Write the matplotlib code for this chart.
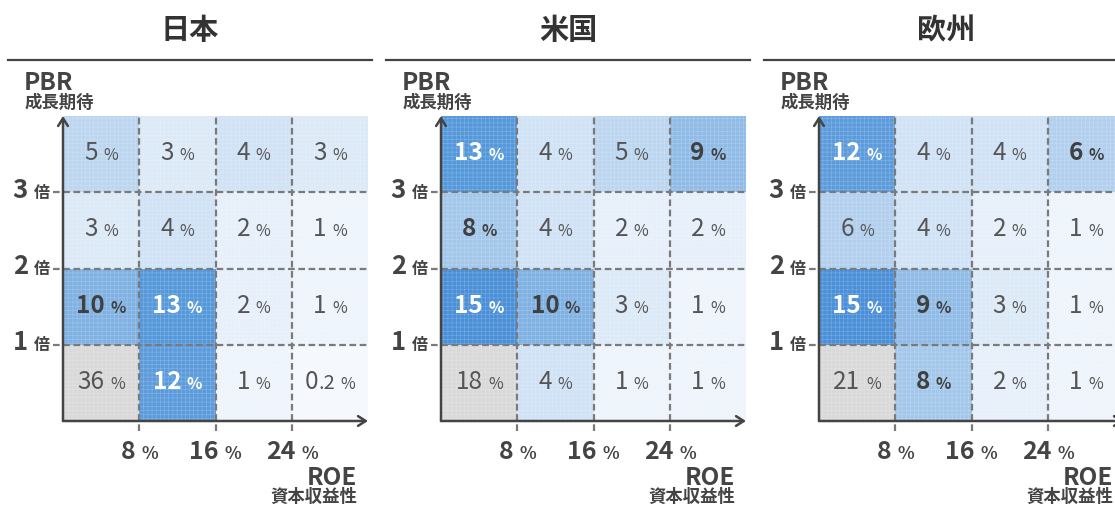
import numpy as np
import matplotlib
matplotlib.use('Agg')
import matplotlib.pyplot as plt
from matplotlib.colors import LinearSegmentedColormap
from matplotlib.offsetbox import TextArea, HPacker, AnnotationBbox
from matplotlib.lines import Line2D
from matplotlib.patches import Rectangle

plt.rcParams['font.family'] = ['Noto Sans CJK JP', 'DejaVu Sans']
plt.rcParams['hatch.linewidth'] = 0.4

# ---------------- data ----------------
regions = ['日本', '米国', '欧州']
roe_ticks = ['8', '16', '24']
pbr_ticks = ['3', '2', '1']
# rows: PBR >3倍, 2-3倍, 1-2倍, <1倍 (top->bottom); cols: ROE <8, 8-16, 16-24, >24 %
japan = [[5, 3, 4, 3],
         [3, 4, 2, 1],
         [10, 13, 2, 1],
         [36, 12, 1, 0.2]]
usa = [[13, 4, 5, 9],
       [8, 4, 2, 2],
       [15, 10, 3, 1],
       [18, 4, 1, 1]]
europe = [[12, 4, 4, 6],
          [6, 4, 2, 1],
          [15, 9, 3, 1],
          [21, 8, 2, 1]]
japan_bold = [[0, 0, 0, 0], [0, 0, 0, 0], [1, 1, 0, 0], [0, 1, 0, 0]]
usa_bold = [[1, 0, 0, 1], [1, 0, 0, 0], [1, 1, 0, 0], [0, 0, 0, 0]]
europe_bold = [[1, 0, 0, 1], [0, 0, 0, 0], [1, 1, 0, 0], [0, 1, 0, 0]]
gray_cell = (3, 0)

panels = [(regions[0], japan, japan_bold),
          (regions[1], usa, usa_bold),
          (regions[2], europe, europe_bold)]

# ---------------- style ----------------
W, H, DPI = 1115, 506, 100
PT = 72 / DPI  # px -> pt
cmap = LinearSegmentedColormap.from_list('blues', [
    (0.0, '#f6f9fd'), (1 / 15, '#eef4fb'), (2 / 15, '#e6effa'), (3 / 15, '#dce9f7'),
    (4 / 15, '#d0e2f5'), (5 / 15, '#bcd6f0'), (6 / 15, '#b2cfee'), (8 / 15, '#a3c7ea'),
    (9 / 15, '#90bbe6'), (10 / 15, '#80b1e3'), (12 / 15, '#5c9bdb'), (13 / 15, '#5598da'),
    (1.0, '#4a8fd7')])
cmap.set_bad('#d9d9d9')
cmap.set_over('#4a8fd7')
AXC = '#444444'
DASHC = '#7a7a7a'

fig = plt.figure(figsize=(W / DPI, H / DPI), dpi=DPI)
fig.patch.set_facecolor('white')


def fx(x):
    return x / W


def fy(y):
    return 1 - y / H


def composite(ax, xy, parts, align, offset_px, xycoords='data', sep=5.5):
    """parts: list of groups; each group list of (text, props) without gaps."""
    groups = []
    for g in parts:
        areas = [TextArea(s, textprops=p) for s, p in g]
        groups.append(HPacker(children=areas, align='baseline', pad=0, sep=0))
    pack = HPacker(children=groups, align='baseline', pad=0, sep=sep * PT)
    ab = AnnotationBbox(pack, xy, xybox=(offset_px[0] * PT, offset_px[1] * PT),
                        xycoords=xycoords, boxcoords='offset points',
                        box_alignment=align, frameon=False, pad=0,
                        annotation_clip=False, zorder=6)
    ax.add_artist(ab)


GL, GT, GS = 63, 117, 305  # grid left, top, size (px)
for i, (name, vals, bold) in enumerate(panels):
    dx = 378 * i
    v = np.array(vals, dtype=float)
    m = np.zeros_like(v, dtype=bool)
    m[gray_cell] = True
    data = np.ma.masked_array(v, mask=m)

    ax = fig.add_axes([fx(GL + dx), fy(GT + GS), GS / W, GS / H])
    ax.pcolormesh(np.arange(5), np.arange(5), data[::-1], cmap=cmap, vmin=0, vmax=15,
                  shading='flat', zorder=1)
    # fine paper-like texture over the cells
    ax.add_patch(Rectangle((0, 0), 1, 1, transform=ax.transAxes, facecolor='none',
                           edgecolor=(1, 1, 1, 0.25), hatch='++++', lw=0, zorder=2))
    ax.set_xlim(0, 4)
    ax.set_ylim(0, 4)
    ax.set_xticks([])
    ax.set_yticks([])
    for s in ax.spines.values():
        s.set_visible(False)

    # dashed grid
    ext = 10 / GS
    for k in (1, 2, 3):
        ax.axvline(k, ymin=-ext, ymax=1, color=DASHC, lw=1.6, ls=(0, (3, 1.6)),
                   clip_on=False, zorder=3)
        ax.axhline(k, xmin=-ext, xmax=1, color=DASHC, lw=1.6, ls=(0, (3, 1.6)),
                   clip_on=False, zorder=3)

    # axis arrows
    arrow = dict(arrowstyle='->,head_length=0.55,head_width=0.35', lw=1.8, color=AXC,
                 shrinkA=0, shrinkB=0, mutation_scale=10)
    ax.annotate('', xy=(0, 1.0), xytext=(0, 0), xycoords='axes fraction',
                arrowprops=arrow, zorder=5, annotation_clip=False)
    ax.annotate('', xy=(1.0, 0), xytext=(0, 0), xycoords='axes fraction',
                arrowprops=arrow, zorder=5, annotation_clip=False)

    # cell labels
    for r in range(4):
        for c in range(4):
            val = vals[r][c]
            if val >= 12 and (r, c) != gray_cell:
                col, wt = 'white', 'bold'
            elif bold[r][c]:
                col, wt = '#404040', 'bold'
            else:
                col, wt = '#555555', 'normal'
            big = dict(size=17.5, color=col, weight=wt)
            mid = dict(size=14.5, color=col, weight=wt)
            small = dict(size=11.5, color=col, weight=wt)
            s = f'{val:g}'
            if '.' in s:
                ip, dp = s.split('.')
                num = [(ip, big), ('.' + dp, mid)]
            else:
                num = [(s, big)]
            composite(ax, (c + 0.5, 3 - r + 0.5), [num, [('%', small)]], (0.5, 0.5), (0, 2))

    # x tick labels
    for k, t in enumerate(roe_ticks):
        composite(ax, (k + 1, 0), [[(t, dict(size=18, weight='bold', color=AXC))],
                                   [('%', dict(size=12.5, weight='bold', color=AXC))]],
                  (0.5, 0.5), (0, -30), sep=6)
    # y tick labels
    for k, t in enumerate(pbr_ticks):
        composite(ax, (0, 3 - k), [[(t, dict(size=18.5, weight='bold', color=AXC))],
                                   [('倍', dict(size=11.5, weight='bold', color=AXC))]],
                  (1, 0.5), (-13, 3), sep=6)

    # title and rule
    fig.text(fx(190 + dx), fy(30), name, ha='center', va='center', size=21,
             weight='bold', color='#333333')
    fig.add_artist(Line2D([fx(8 + dx), fx(372 + dx)], [fy(61), fy(61)],
                          color='#444444', lw=1.6))
    # axis titles
    fig.text(fx(24 + dx), fy(83), 'PBR', ha='left', va='center', size=17.5,
             weight='bold', color=AXC)
    fig.text(fx(25 + dx), fy(103), '成長期待', ha='left', va='center', size=12.5,
             weight='bold', color=AXC)
    fig.text(fx(357 + dx), fy(478), 'ROE', ha='right', va='center', size=17.5,
             weight='bold', color=AXC)
    fig.text(fx(357 + dx), fy(497), '資本収益性', ha='right', va='center', size=12.5,
             weight='bold', color=AXC)

fig.savefig('out.png', dpi=DPI, facecolor='white')
